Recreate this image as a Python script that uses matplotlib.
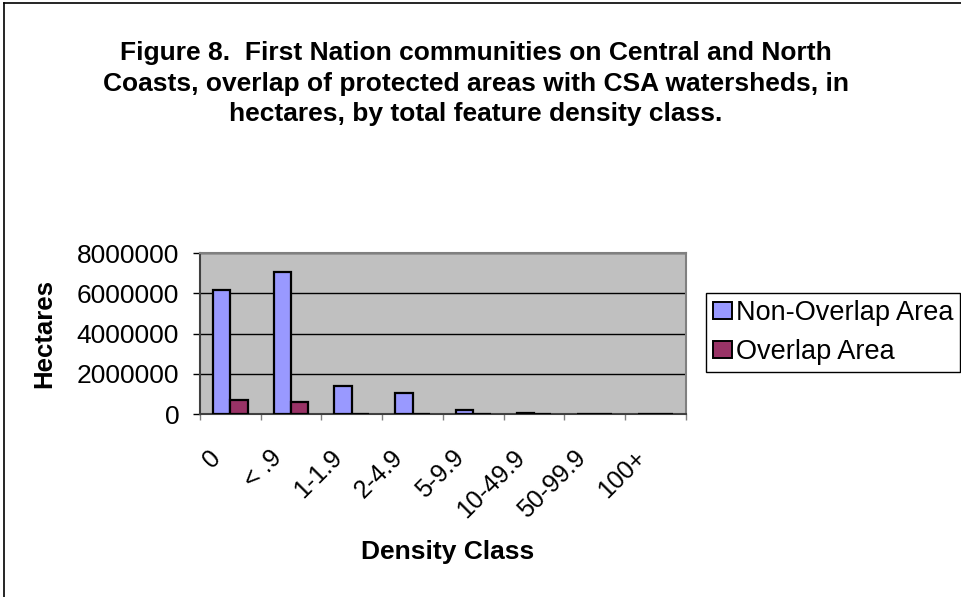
import matplotlib
matplotlib.use('Agg')
import matplotlib.pyplot as plt
from matplotlib.lines import Line2D
import numpy as np

plt.rcParams['font.family'] = ['Liberation Sans', 'DejaVu Sans']

classes = ['0', '< .9', '1-1.9', '2-4.9', '5-9.9', '10-49.9', '50-99.9', '100+']
non_overlap = [6150000, 7080000, 1410000, 1030000, 200000, 50000, 0, 0]
overlap = [700000, 610000, 20000, 20000, 10000, 0, 0, 0]

fig = plt.figure(figsize=(9.61, 5.97), dpi=100)
ax = fig.add_axes([0.2081, 0.3065, 0.5057, 0.2697])

x = np.arange(len(classes))
w = 0.2857
ax.bar(x - w / 2, non_overlap, w, color='#9999FF', edgecolor='black',
       linewidth=1.6, label='Non-Overlap Area', zorder=3)
ax.bar(x + w / 2, overlap, w, color='#993366', edgecolor='black',
       linewidth=1.6, label='Overlap Area', zorder=3)

ax.set_facecolor('#C0C0C0')
ax.set_xlim(-0.5, len(classes) - 0.5)
ax.set_ylim(0, 8000000)
ax.set_yticks([0, 2000000, 4000000, 6000000, 8000000])
ax.set_yticklabels(['0', '2000000', '4000000', '6000000', '8000000'], fontsize=19)
ax.yaxis.grid(True, color='black', linewidth=1, zorder=1)

# category ticks sit between the groups
ax.set_xticks(np.arange(len(classes) + 1) - 0.5)
ax.set_xticklabels([])
ax.tick_params(axis='x', length=4.5, width=1, color='#808080', direction='out')
ax.tick_params(axis='y', length=5, width=1, color='black', direction='out',
               pad=10)

# rotated category labels, right end just below each group centre
for i, lab in enumerate(classes):
    ax.annotate(lab, xy=(i, 0), xycoords=('data', 'axes fraction'),
                xytext=(-13, -40), textcoords='offset pixels',
                rotation=45, rotation_mode='anchor', ha='right', va='center',
                fontsize=18, annotation_clip=False)

for s in ax.spines.values():
    s.set_color('#808080')
    s.set_linewidth(1.5)
ax.spines['bottom'].set_color('#404040')
ax.spines['left'].set_color('#404040')

ax.set_ylabel('Hectares', fontsize=18.5, fontweight='bold', va='center')
ax.yaxis.set_label_coords((44 - 200) / 486, (414 - 333) / 161)
ax.set_xlabel('Density Class', fontsize=19, fontweight='bold', va='center')
ax.xaxis.set_label_coords((448 - 200) / 486, (414 - 552) / 161)

fig.text(0.495, 1 - 83.5 / 597,
         'Figure 8.  First Nation communities on Central and North\n'
         'Coasts, overlap of protected areas with CSA watersheds, in\n'
         'hectares, by total feature density class.',
         ha='center', va='center', fontsize=19, fontweight='bold',
         linespacing=1.32)

leg = fig.legend(loc='upper left', bbox_to_anchor=(706 / 961, 1 - 293 / 597),
                 fontsize=19.5, frameon=True, fancybox=False, edgecolor='black',
                 framealpha=1, handlelength=0.7, handleheight=0.6,
                 handletextpad=0.15, borderpad=0.25, labelspacing=0.5,
                 borderaxespad=0)
leg.get_frame().set_linewidth(1)
for h in leg.legend_handles:
    h.set_linewidth(1.4)

# figure border (right and bottom edges fall outside the image)
fig.add_artist(Line2D([4 / 961, 4 / 961], [0, 1 - 3 / 597], color='black',
                      linewidth=1.2, transform=fig.transFigure))
fig.add_artist(Line2D([4 / 961, 1], [1 - 3 / 597, 1 - 3 / 597], color='black',
                      linewidth=1.2, transform=fig.transFigure))

fig.savefig('out.png', dpi=100)
